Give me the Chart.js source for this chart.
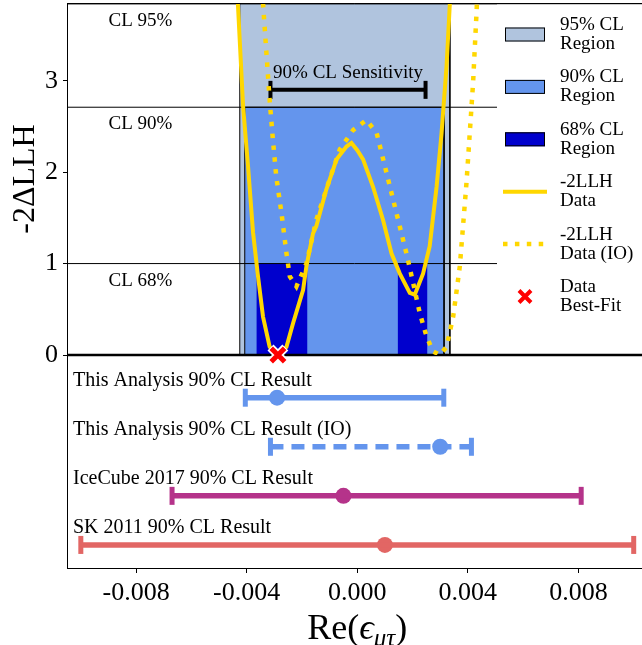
<!DOCTYPE html>
<html>
<head>
<meta charset="utf-8">
<title>Re(eps_mutau) profile</title>
<script src="https://cdn.jsdelivr.net/npm/chart.js@4"></script>
<style>
  html, body { margin: 0; padding: 0; background: #fff; }
</style>
</head>
<body>
<canvas id="chart" width="642" height="645"></canvas>
<script>
// -2dLLH scan, normal ordering
const scanX = [-0.0044, -0.00432, -0.00413, -0.00395, -0.00377, -0.00359, -0.00341, -0.00317, -0.00300, -0.00287,
  -0.00270, -0.00256, -0.00232, -0.00196, -0.00184, -0.00160, -0.00148, -0.00112, -0.00075, -0.00039,
  -0.00021, 0.0, 0.00021, 0.00057, 0.00093, 0.00124, 0.00154, 0.00190, 0.00208, 0.00238,
  0.00262, 0.00287, 0.00305, 0.00323, 0.00335, 0.0034];
const scanY = [4.3, 3.85, 2.72, 2.06, 1.34, 0.86, 0.42, 0.09, 0.02, 0.0,
  0.04, 0.09, 0.35, 0.71, 0.97, 1.33, 1.41, 1.81, 2.14, 2.28,
  2.32, 2.24, 2.14, 1.84, 1.48, 1.11, 0.89, 0.68, 0.66, 0.89,
  1.19, 1.84, 2.43, 3.16, 3.85, 4.3];

// -2dLLH scan, inverted ordering
const scanIOX = [-0.0035, -0.00341, -0.00317, -0.00305, -0.00293, -0.00274, -0.00256, -0.00244, -0.0022, -0.00184,
  -0.00148, -0.0010, -0.00063, -0.00015, 0.00033, 0.0007, 0.00106, 0.00142, 0.00178, 0.00202,
  0.00226, 0.00251, 0.00274, 0.00299, 0.00323, 0.00347, 0.00371, 0.00395, 0.00419, 0.00432, 0.0044];
const scanIOY = [4.5, 3.85, 2.79, 2.35, 1.95, 1.55, 1.11, 0.86, 0.75, 1.0,
  1.48, 1.92, 2.25, 2.46, 2.57, 2.43, 1.99, 1.55, 1.11, 0.79,
  0.46, 0.20, 0.04, 0.0, 0.09, 0.42, 0.97, 1.88, 2.98, 3.78, 4.5];

const bestFit = { x: -0.00287, y: 0 };

// confidence levels
const clLevels = [1.0, 2.71, 3.84];
const clNames = ['CL 68%', 'CL 90%', 'CL 95%'];
const region95 = [-0.00425, 0.00335];
const region90 = [-0.00407, 0.00314];
const region68 = [[-0.00365, -0.0018], [0.00146, 0.00254]];

const sensRange = [-0.00314, 0.00247];
const sensLevel = 2.9;

// 90% CL intervals, bottom panel
const resultNames = ['This Analysis 90% CL Result', 'This Analysis 90% CL Result (IO)',
  'IceCube 2017 90% CL Result', 'SK 2011 90% CL Result'];
const resultLow = [-0.00405, -0.00314, -0.0067, -0.0100];
const resultHigh = [0.00313, 0.00413, 0.0081, 0.0100];
const resultBest = [-0.0029, 0.0030, -0.0005, 0.0010];
const resultColors = ['#6495ed', '#6495ed', '#b5338a', '#e26664'];
const resultDash = [[], [13, 8], [], []];

const xTicks = [-0.008, -0.004, 0, 0.004, 0.008];
const yTicks = [0, 1, 2, 3];
const xMin = -0.0105, xMax = 0.0103, yMax = 3.85;

const legendEntries = [
  { key: 'r95', lines: ['95% CL', 'Region'] },
  { key: 'r90', lines: ['90% CL', 'Region'] },
  { key: 'r68', lines: ['68% CL', 'Region'] },
  { key: 'scan', lines: ['-2LLH', 'Data'] },
  { key: 'scanIO', lines: ['-2LLH', 'Data (IO)'] },
  { key: 'best', lines: ['Data', 'Best-Fit'] }
];

const serif = '"Liberation Serif", "DejaVu Serif", serif';
Chart.defaults.font.family = serif;
Chart.defaults.color = '#000';

function box(x0, x1, top) {
  return [{ x: x0, y: 0 }, { x: x0, y: top }, { x: x1, y: top }, { x: x1, y: 0 }];
}
function hline(v) {
  return [{ x: xMin, y: v }, { x: xMax, y: v }];
}

const datasets = [
  { key: 'r95', data: box(region95[0], region95[1], yMax), backgroundColor: '#b0c4de', borderColor: '#000', borderWidth: 1, fill: 'origin', order: 9 },
  { key: 'r90', data: box(region90[0], region90[1], clLevels[1]), backgroundColor: '#6495ed', borderColor: '#000', borderWidth: 1, fill: 'origin', order: 8 },
  ...region68.map(r => ({ key: 'r68', data: box(r[0], r[1], clLevels[0]), backgroundColor: '#0000cd', borderColor: '#0000cd', borderWidth: 0, fill: 'origin', order: 7 })),
  ...clLevels.map(v => ({ data: hline(v), borderColor: '#000', borderWidth: 1, order: 6 })),
  { data: hline(0), borderColor: '#000', borderWidth: 2.5, clip: false, order: 5 },
  { data: sensRange.map(v => ({ x: v, y: sensLevel })), borderColor: '#000', borderWidth: 4,
    pointStyle: 'line', pointRotation: 90, pointRadius: 9, pointBorderWidth: 4, pointBorderColor: '#000', order: 4 },
  { key: 'scanIO', data: scanIOX.map((v, i) => ({ x: v, y: scanIOY[i] })), borderColor: '#ffd700', borderWidth: 4.5, borderDash: [4.5, 7.4], order: 3 },
  { key: 'scan', data: scanX.map((v, i) => ({ x: v, y: scanY[i] })), borderColor: '#ffd700', borderWidth: 4, order: 2 },
  { data: [bestFit], showLine: false, clip: false, pointStyle: 'crossRot', pointRadius: 10.5, pointBorderWidth: 8.5, pointBorderColor: '#fff', order: 1 },
  { key: 'best', data: [bestFit], showLine: false, clip: false, pointStyle: 'crossRot', pointRadius: 9.5, pointBorderWidth: 5, pointBorderColor: '#ff0000', order: 0 }
].map(d => Object.assign({ yAxisID: 'y', pointRadius: 0, fill: false }, d));

resultNames.forEach((n, i) => {
  datasets.push({
    yAxisID: 'y2', data: [{ x: resultLow[i], y: i }, { x: resultHigh[i], y: i }],
    borderColor: resultColors[i], borderWidth: 5.5, borderDash: resultDash[i], fill: false,
    pointStyle: 'line', pointRotation: 90, pointRadius: 9, pointBorderWidth: 5,
    pointBorderColor: resultColors[i], order: 0
  });
  datasets.push({
    yAxisID: 'y2', data: [{ x: resultBest[i], y: i }], showLine: false,
    pointRadius: 8, pointBorderWidth: 0, pointBackgroundColor: resultColors[i], order: 0
  });
});

const overlay = {
  id: 'overlay',
  afterDatasetsDraw(chart) {
    const { ctx, chartArea: a, scales: { x, y, y2 } } = chart;
    ctx.save();
    // top edge of the frame
    ctx.strokeStyle = '#000';
    ctx.lineWidth = 1;
    ctx.beginPath();
    ctx.moveTo(a.left, a.top + 0.5);
    ctx.lineTo(a.right, a.top + 0.5);
    ctx.stroke();

    ctx.fillStyle = '#000';
    ctx.font = '19px ' + serif;
    ctx.textBaseline = 'alphabetic';
    ctx.textAlign = 'left';
    clLevels.forEach((v, i) => {
      ctx.fillText(clNames[i], x.getPixelForValue(-0.009), y.getPixelForValue(v) + 22);
    });
    ctx.textAlign = 'center';
    ctx.fillText('90% CL Sensitivity', x.getPixelForValue((sensRange[0] + sensRange[1]) / 2), y.getPixelForValue(sensLevel) - 12);

    ctx.textAlign = 'left';
    ctx.font = '20px ' + serif;
    resultNames.forEach((n, i) => {
      ctx.fillText(n, a.left + 6, y2.getPixelForValue(i) - 12);
    });

    // legend
    const lx = 497;
    ctx.fillStyle = '#fff';
    ctx.fillRect(lx, a.top + 1.5, a.right - lx, 320);
    ctx.font = '19px ' + serif;
    legendEntries.forEach((e, i) => {
      const cy = a.top + 31.5 + i * 52.4;
      const ds = chart.data.datasets.find(d => d.key === e.key);
      ctx.save();
      if (e.key.startsWith('r')) {
        ctx.fillStyle = ds.backgroundColor;
        ctx.fillRect(505, cy - 7, 40, 14);
        ctx.strokeStyle = '#000';
        ctx.lineWidth = 1;
        ctx.strokeRect(505.5, cy - 6.5, 39, 13);
      } else if (e.key.startsWith('scan')) {
        ctx.strokeStyle = ds.borderColor;
        ctx.lineWidth = ds.borderWidth;
        ctx.setLineDash(ds.borderDash || []);
        ctx.beginPath();
        ctx.moveTo(503, cy);
        ctx.lineTo(547, cy);
        ctx.stroke();
      } else {
        ctx.strokeStyle = ds.pointBorderColor;
        ctx.lineWidth = 4;
        const r = 6;
        ctx.beginPath();
        ctx.moveTo(525 - r, cy - r); ctx.lineTo(525 + r, cy + r);
        ctx.moveTo(525 - r, cy + r); ctx.lineTo(525 + r, cy - r);
        ctx.stroke();
      }
      ctx.restore();
      ctx.fillStyle = '#000';
      ctx.fillText(e.lines[0], 560, cy - 4.5);
      ctx.fillText(e.lines[1], 560, cy + 14.5);
    });

    // x axis title with subscript
    const parts = [['Re(', '36px ' + serif, 0], ['\u03f5', 'italic 36px ' + serif, 0],
      ['\u03bc\u03c4', 'italic 25px ' + serif, 7], [')', '36px ' + serif, 0]];
    let w = 0;
    parts.forEach(p => { ctx.font = p[1]; w += ctx.measureText(p[0]).width; });
    let px = x.getPixelForValue(0) - w / 2;
    const base = chart.height - 6;
    ctx.fillStyle = '#000';
    ctx.textAlign = 'left';
    parts.forEach(p => {
      ctx.font = p[1];
      ctx.fillText(p[0], px, base + p[2]);
      px += ctx.measureText(p[0]).width;
    });
    ctx.restore();
  }
};

new Chart(document.getElementById('chart'), {
  type: 'line',
  data: { datasets },
  options: {
    responsive: false,
    animation: false,
    devicePixelRatio: 1,
    layout: { autoPadding: false, padding: { top: 3, left: 0, right: 0, bottom: 0 } },
    plugins: { legend: { display: false }, tooltip: { enabled: false } },
    scales: {
      x: {
        type: 'linear', min: xMin, max: xMax,
        afterBuildTicks: s => { s.ticks = xTicks.map(v => ({ value: v })); },
        afterFit: s => { s.height = 77; s.paddingLeft = 0; s.paddingRight = 0; },
        ticks: { font: { size: 26 }, padding: 5, maxRotation: 0, callback: v => v.toFixed(3) },
        grid: { drawOnChartArea: false, tickLength: 5, color: '#000' },
        border: { color: '#000' }
      },
      y: {
        type: 'linear', position: 'left', stack: 'panels', stackWeight: 352, weight: 1,
        min: 0, max: yMax,
        afterBuildTicks: s => { s.ticks = yTicks.map(v => ({ value: v })); },
        afterFit: s => { s.width = 67; s.paddingTop = 0; s.paddingBottom = 0; },
        ticks: { font: { size: 26 }, padding: 5 },
        title: { display: true, text: '-2\u0394LLH', font: { size: 32 }, padding: { top: 6, bottom: 0 } },
        grid: { drawOnChartArea: false, tickLength: 4, color: '#000' },
        border: { color: '#000' }
      },
      y2: {
        type: 'linear', position: 'left', stack: 'panels', stackWeight: 213, weight: 0,
        min: -0.87, max: 3.47, reverse: true,
        afterFit: s => { s.width = 67; s.paddingTop = 0; s.paddingBottom = 0; },
        ticks: { display: false },
        grid: { display: false },
        border: { display: true, color: '#000' }
      }
    }
  },
  plugins: [overlay]
});
</script>
</body>
</html>
